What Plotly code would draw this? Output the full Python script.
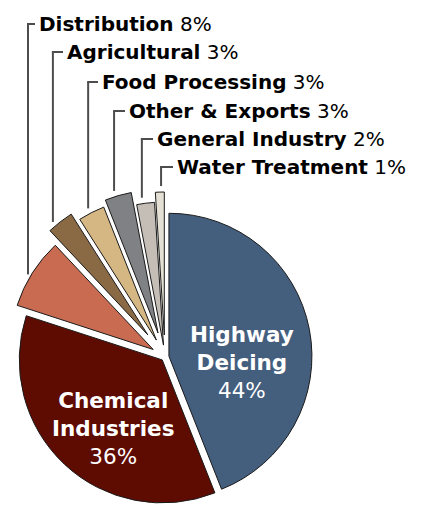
import math
import plotly.graph_objects as go

# ---- data ----
categories = ["Highway Deicing", "Chemical Industries", "Distribution", "Agricultural",
              "Food Processing", "Other & Exports", "General Industry", "Water Treatment"]
values = [44, 36, 8, 3, 3, 3, 2, 1]
pct_labels = ["44%", "36%", "8%", "3%", "3%", "3%", "2%", "1%"]

# ---- style ----
colors = ["#445e7d", "#5e0b02", "#c96b50", "#8a6a45", "#d5b783", "#808185", "#c5beb7", "#e4e1d4"]
explode_px = [4, 4, 14, 28, 19, 25, 12, 22]   # per-slice explosion distance (px)
leader_angle_off = [-3.5, -3.8, -1.5, -1.7, -1.5, 0.5]  # where each leader meets its slice (deg)

W, H = 427, 506
CX, CY = 165, 357      # pie centre (px)
R = 143                # pie radius (px)
FONT = "DejaVu Sans"

total = float(sum(values))
fig = go.Figure()

mids = []
apexes = []
cum = 0.0
for i, v in enumerate(values):
    a0 = cum / total * 360.0
    cum += v
    a1 = cum / total * 360.0
    midd = (a0 + a1) / 2.0
    mid = math.radians(midd)
    dx, dy = math.sin(mid), -math.cos(mid)
    ax, ay = CX + explode_px[i] * dx, CY + explode_px[i] * dy
    mids.append(midd)
    apexes.append((ax, ay))
    cols = ["rgba(0,0,0,0)"] * len(values)
    cols[i] = colors[i]
    lw = [0] * len(values)
    lw[i] = 1
    fig.add_trace(go.Pie(
        labels=categories, values=values, sort=False, direction="clockwise", rotation=0,
        marker=dict(colors=cols, line=dict(color="#1a1a1a", width=lw)),
        textinfo="none", hoverinfo="skip", showlegend=False,
        domain=dict(x=[(ax - R) / W, (ax + R) / W],
                    y=[max(0.0, (H - (ay + R)) / H), (H - (ay - R)) / H]),
    ))

# ---- outside labels with leader lines (slices 2..7) ----
label_rows = [24, 52, 82, 111, 139, 167]
label_x = [37, 65, 100, 127, 155, 175]
shapes = []
annotations = []
for k, i in enumerate(range(2, len(values))):
    ang = math.radians(mids[i] + leader_angle_off[k])
    ax, ay = apexes[i]
    lx = ax + R * math.sin(ang)
    ly = ay - R * math.cos(ang) - 6
    ty = label_rows[k]
    shapes.append(dict(type="line", xref="paper", yref="paper",
                       x0=lx / W, x1=lx / W, y0=1 - ly / H, y1=1 - ty / H,
                       line=dict(color="#4d4d4d", width=2)))
    shapes.append(dict(type="line", xref="paper", yref="paper",
                       x0=(lx - 1) / W, x1=(label_x[k] - 2) / W, y0=1 - ty / H, y1=1 - ty / H,
                       line=dict(color="#4d4d4d", width=2)))
    annotations.append(dict(xref="paper", yref="paper", x=label_x[k] / W, y=1 - ty / H,
                            xanchor="left", yanchor="middle", showarrow=False,
                            text="<b>%s</b> %s" % (categories[i], pct_labels[i]),
                            font=dict(family=FONT, size=20, color="#000000")))

# ---- inside labels ----
annotations.append(dict(xref="paper", yref="paper", x=242 / W, y=1 - 362 / H,
                        xanchor="center", yanchor="middle", showarrow=False, align="center",
                        text="<b>Highway<br>Deicing</b><br>" + pct_labels[0],
                        font=dict(family=FONT, size=21.5, color="#ffffff")))
annotations.append(dict(xref="paper", yref="paper", x=113 / W, y=1 - 428 / H,
                        xanchor="center", yanchor="middle", showarrow=False, align="center",
                        text="<b>Chemical<br>Industries</b><br>" + pct_labels[1],
                        font=dict(family=FONT, size=21.5, color="#ffffff")))

fig.update_layout(width=W, height=H, autosize=False,
                  margin=dict(l=0, r=0, t=0, b=0, pad=0),
                  paper_bgcolor="white", plot_bgcolor="white",
                  shapes=shapes, annotations=annotations)
fig.write_html("out.html", config={"displayModeBar": False},
               post_script="document.body.style.margin='0px';")
